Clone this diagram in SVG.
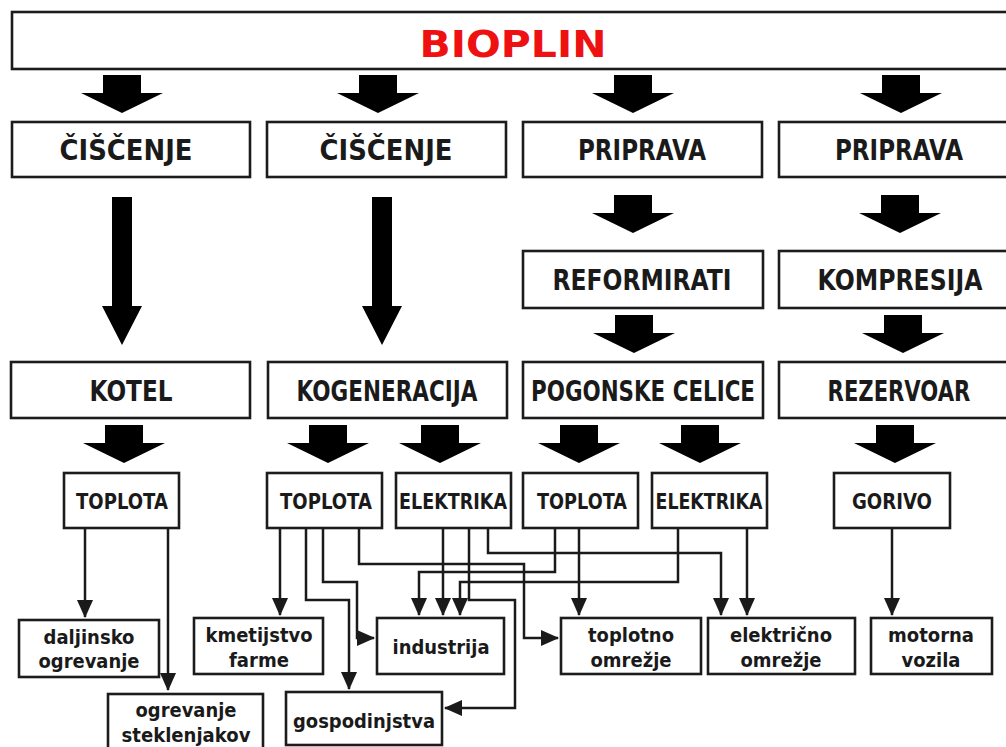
<svg xmlns="http://www.w3.org/2000/svg" width="1006" height="747" viewBox="0 0 1006 747">
  <defs>
    <style>
      .box { fill: #ffffff; stroke: #1c1c1c; stroke-width: 2.6; }
      .big { font-family: "DejaVu Sans", Verdana, sans-serif; font-weight: bold; font-size: 27.5px; fill: #1a1a1a; text-anchor: middle; }
      .mid { font-family: "DejaVu Sans", Verdana, sans-serif; font-weight: bold; font-size: 22px; fill: #1a1a1a; text-anchor: middle; }
      .low { font-family: "DejaVu Sans", Verdana, sans-serif; font-weight: bold; font-size: 19.5px; fill: #1a1a1a; text-anchor: middle; }
      .title { font-family: "DejaVu Sans", Verdana, sans-serif; font-weight: bold; font-size: 38px; fill: #ee1111; text-anchor: middle; }
      .block { fill: #000000; }
      .link { fill: none; stroke: #1a1a1a; stroke-width: 2.5; }
    </style>
    <!-- short block arrow, origin at top centre -->
    <path id="fat" d="M-19,0 H19 V18 H41 L0,38 L-41,18 H-19 Z"/>
    <!-- long block arrow, origin at top centre -->
    <path id="tall" d="M-10,0 H10 V109 H20 L0,148 L-20,109 H-10 Z"/>
    <marker id="tip" viewBox="0 0 18 16" refX="17" refY="8" markerWidth="18" markerHeight="16" orient="auto" markerUnits="userSpaceOnUse">
      <path d="M0,0 L18,8 L0,16 Z" fill="#1a1a1a"/>
    </marker>
  </defs>

  <!-- block arrows between the stages -->
  <g id="block-arrows" class="block">
    <use href="#fat" x="122" y="75"/>
    <use href="#fat" x="378" y="75"/>
    <use href="#fat" x="633" y="75"/>
    <use href="#fat" x="901" y="75"/>
    <use href="#tall" x="122" y="197"/>
    <use href="#tall" x="382" y="197"/>
    <use href="#fat" x="633" y="195"/>
    <use href="#fat" x="900" y="195"/>
    <use href="#fat" x="634" y="315"/>
    <use href="#fat" x="903" y="315"/>
    <use href="#fat" x="124" y="425"/>
    <use href="#fat" x="328" y="425"/>
    <use href="#fat" x="440" y="425"/>
    <use href="#fat" x="579" y="425"/>
    <use href="#fat" x="700" y="425"/>
    <use href="#fat" x="895" y="425"/>
  </g>

  <!-- thin connectors from the outputs to the consumers -->
  <g id="connectors" class="link" marker-end="url(#tip)">
    <path d="M85,528 V617"/>
    <path d="M168,528 V690"/>
    <path d="M280,528 V615"/>
    <path d="M306,528 V600 H349 V689"/>
    <path d="M323,528 V582 H357 V638 H374"/>
    <path d="M359,528 V564 H524 V638 H558"/>
    <path d="M443,528 V615"/>
    <path d="M469,528 V600 H515 V708 H445"/>
    <path d="M488,528 V553 H721 V615"/>
    <path d="M555,528 V572 H419 V615"/>
    <path d="M579,528 V615"/>
    <path d="M678,528 V582 H460 V615"/>
    <path d="M747,528 V615"/>
    <path d="M892,528 V615"/>
  </g>

  <g id="bioplin">
    <rect class="box" x="12" y="12" width="996" height="57" stroke-width="3"/>
    <text class="title" x="513" y="57" textLength="187" lengthAdjust="spacingAndGlyphs">BIOPLIN</text>
  </g>

  <!-- stage 1 -->
  <g id="ciscenje-1">
    <rect class="box" x="12" y="122" width="238" height="55"/>
    <text class="big" x="126" y="160" textLength="133" lengthAdjust="spacingAndGlyphs">ČIŠČENJE</text>
  </g>
  <g id="ciscenje-2">
    <rect class="box" x="267" y="122" width="239" height="55"/>
    <text class="big" x="386" y="160" textLength="133" lengthAdjust="spacingAndGlyphs">ČIŠČENJE</text>
  </g>
  <g id="priprava-1">
    <rect class="box" x="523" y="122" width="239" height="55"/>
    <text class="big" x="642" y="160" textLength="128" lengthAdjust="spacingAndGlyphs">PRIPRAVA</text>
  </g>
  <g id="priprava-2">
    <rect class="box" x="779" y="122" width="229" height="55"/>
    <text class="big" x="899" y="160" textLength="128" lengthAdjust="spacingAndGlyphs">PRIPRAVA</text>
  </g>

  <!-- stage 2 -->
  <g id="reformirati">
    <rect class="box" x="523" y="251" width="240" height="57"/>
    <text class="big" x="642" y="290" textLength="179" lengthAdjust="spacingAndGlyphs">REFORMIRATI</text>
  </g>
  <g id="kompresija">
    <rect class="box" x="779" y="251" width="229" height="57"/>
    <text class="big" transform="translate(900 290) scale(0.857 1)">KOMPRESIJA</text>
  </g>

  <!-- stage 3 -->
  <g id="kotel">
    <rect class="box" x="11" y="362" width="239" height="56"/>
    <text class="big" x="131" y="401" textLength="83" lengthAdjust="spacingAndGlyphs">KOTEL</text>
  </g>
  <g id="kogeneracija">
    <rect class="box" x="268" y="362" width="239" height="56"/>
    <text class="big" x="387" y="401" textLength="181" lengthAdjust="spacingAndGlyphs">KOGENERACIJA</text>
  </g>
  <g id="pogonske-celice">
    <rect class="box" x="523" y="362" width="240" height="56"/>
    <text class="big" x="643" y="401" textLength="224" lengthAdjust="spacingAndGlyphs">POGONSKE CELICE</text>
  </g>
  <g id="rezervoar">
    <rect class="box" x="779" y="362" width="229" height="56"/>
    <text class="big" transform="translate(899 401) scale(0.769 1)">REZERVOAR</text>
  </g>

  <!-- outputs -->
  <g id="toplota-kotel">
    <rect class="box" x="64" y="473" width="115" height="55"/>
    <text class="mid" x="122" y="509" textLength="92" lengthAdjust="spacingAndGlyphs">TOPLOTA</text>
  </g>
  <g id="toplota-kogeneracija">
    <rect class="box" x="267" y="473" width="115" height="55"/>
    <text class="mid" x="326" y="509" textLength="92" lengthAdjust="spacingAndGlyphs">TOPLOTA</text>
  </g>
  <g id="elektrika-kogeneracija">
    <rect class="box" x="396" y="473" width="115" height="55"/>
    <text class="mid" x="453" y="509" textLength="108" lengthAdjust="spacingAndGlyphs">ELEKTRIKA</text>
  </g>
  <g id="toplota-celice">
    <rect class="box" x="523" y="473" width="115" height="55"/>
    <text class="mid" x="582" y="509" textLength="90" lengthAdjust="spacingAndGlyphs">TOPLOTA</text>
  </g>
  <g id="elektrika-celice">
    <rect class="box" x="652" y="473" width="115" height="55"/>
    <text class="mid" x="709" y="509" textLength="107" lengthAdjust="spacingAndGlyphs">ELEKTRIKA</text>
  </g>
  <g id="gorivo">
    <rect class="box" x="834" y="473" width="116" height="55"/>
    <text class="mid" x="892" y="509" textLength="80" lengthAdjust="spacingAndGlyphs">GORIVO</text>
  </g>

  <!-- consumers -->
  <g id="daljinsko-ogrevanje">
    <rect class="box" x="19" y="620" width="140" height="57"/>
    <text class="low" x="89" y="644" textLength="91" lengthAdjust="spacingAndGlyphs">daljinsko</text>
    <text class="low" x="89" y="668" textLength="101" lengthAdjust="spacingAndGlyphs">ogrevanje</text>
  </g>
  <g id="ogrevanje-steklenjakov">
    <rect class="box" x="108" y="694" width="155" height="60"/>
    <text class="low" x="186" y="717" textLength="101" lengthAdjust="spacingAndGlyphs">ogrevanje</text>
    <text class="low" x="186" y="742" textLength="129" lengthAdjust="spacingAndGlyphs">steklenjakov</text>
  </g>
  <g id="kmetijstvo-farme">
    <rect class="box" x="194" y="618" width="129" height="56"/>
    <text class="low" x="259" y="642" textLength="107" lengthAdjust="spacingAndGlyphs">kmetijstvo</text>
    <text class="low" x="259" y="667" textLength="60" lengthAdjust="spacingAndGlyphs">farme</text>
  </g>
  <g id="gospodinjstva">
    <rect class="box" x="286" y="692" width="156" height="53"/>
    <text class="low" x="364" y="728" textLength="142" lengthAdjust="spacingAndGlyphs">gospodinjstva</text>
  </g>
  <g id="industrija">
    <rect class="box" x="377" y="618" width="127" height="56"/>
    <text class="low" x="441" y="654" textLength="97" lengthAdjust="spacingAndGlyphs">industrija</text>
  </g>
  <g id="toplotno-omrezje">
    <rect class="box" x="561" y="618" width="140" height="56"/>
    <text class="low" x="631" y="642" textLength="86" lengthAdjust="spacingAndGlyphs">toplotno</text>
    <text class="low" x="631" y="667" textLength="81" lengthAdjust="spacingAndGlyphs">omrežje</text>
  </g>
  <g id="elektricno-omrezje">
    <rect class="box" x="708" y="618" width="147" height="56"/>
    <text class="low" x="781" y="642" textLength="102" lengthAdjust="spacingAndGlyphs">električno</text>
    <text class="low" x="781" y="667" textLength="81" lengthAdjust="spacingAndGlyphs">omrežje</text>
  </g>
  <g id="motorna-vozila">
    <rect class="box" x="871" y="618" width="121" height="56"/>
    <text class="low" x="931" y="642" textLength="86" lengthAdjust="spacingAndGlyphs">motorna</text>
    <text class="low" x="931" y="667" textLength="59" lengthAdjust="spacingAndGlyphs">vozila</text>
  </g>
</svg>
